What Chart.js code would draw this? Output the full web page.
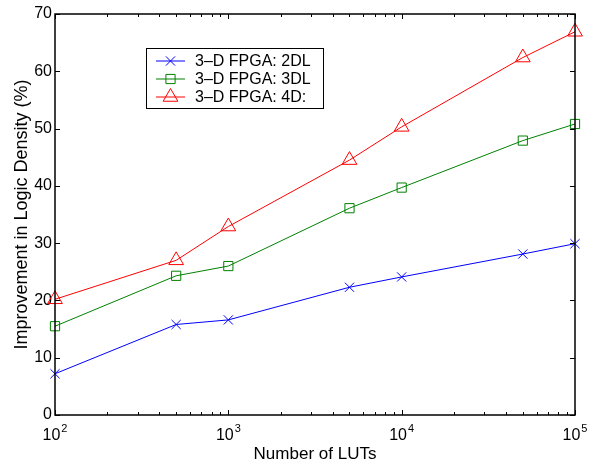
<!DOCTYPE html>
<html>
<head>
<meta charset="utf-8">
<title>Improvement in Logic Density</title>
<script src="https://cdn.jsdelivr.net/npm/chart.js@4.4.1/dist/chart.umd.min.js"></script>
<style>
  html, body { margin: 0; padding: 0; background: #fff; }
  #wrap { width: 600px; height: 463px; }
</style>
</head>
<body>
<div id="wrap"><canvas id="chart" width="600" height="463"></canvas></div>
<script>
// Number of LUTs (x axis, log scale)
const luts = [100, 500, 1000, 5000, 10000, 50000, 100000];

// Improvement in logic density in %, one array per series
const improvement2DL = [7.2, 15.8, 16.6, 22.3, 24.1, 28.1, 29.9];
const improvement3DL = [15.5, 24.3, 26.0, 36.1, 39.7, 47.9, 50.8];
const improvement4D = [20.2, 27.0, 32.9, 44.5, 50.3, 62.4, 66.9];

const seriesLabels = ['3\u2013D FPGA: 2DL', '3\u2013D FPGA: 3DL', '3\u2013D FPGA: 4D:'];

// Tick marks and labels
const xTickValues = [100, 1000, 10000, 100000];
const xTickExponents = ['2', '3', '4', '5'];
const yTickValues = [0, 10, 20, 30, 40, 50, 60, 70];

const fontFamily = "'Liberation Sans', Arial, Helvetica, sans-serif";
Chart.defaults.font.family = fontFamily;
Chart.defaults.color = '#000';

// One line series with hollow markers
function makeSeries(label, values, color, pointStyle, radius) {
    return {
        label: label,
        data: values,
        borderColor: color,
        backgroundColor: 'rgba(0,0,0,0)',
        borderWidth: 1,
        pointStyle: pointStyle,
        pointRadius: radius,
        pointBorderColor: color,
        pointBackgroundColor: 'rgba(0,0,0,0)',
        pointBorderWidth: 1,
        tension: 0,
        clip: false
    };
}

// Box around the plot, inward ticks on all sides and 10^n labels
const axesBox = {
    id: 'axesBox',
    afterDatasetsDraw(chart) {
        const { ctx, chartArea: a, scales: { x, y } } = chart;
        ctx.save();
        ctx.strokeStyle = '#000';
        ctx.lineWidth = 1;
        ctx.beginPath();
        yTickValues.forEach(v => {
            const py = Math.round(y.getPixelForValue(v)) + 0.5;
            ctx.moveTo(a.left, py); ctx.lineTo(a.left + 5, py);
            ctx.moveTo(a.right, py); ctx.lineTo(a.right - 5, py);
        });
        xTickValues.forEach(base => {
            for (let m = 1; m < 10; m++) {
                const v = base * m;
                if (v > x.max) break;
                const px = Math.round(x.getPixelForValue(v)) + 0.5;
                const len = m === 1 ? 5 : 3;
                ctx.moveTo(px, a.bottom); ctx.lineTo(px, a.bottom - len);
                ctx.moveTo(px, a.top); ctx.lineTo(px, a.top + len);
            }
        });
        ctx.stroke();

        ctx.lineWidth = 1.5;
        ctx.strokeRect(a.left, a.top, a.right - a.left, a.bottom - a.top);

        // x tick labels drawn as 10 with a raised exponent
        ctx.fillStyle = '#000';
        ctx.textBaseline = 'alphabetic';
        ctx.textAlign = 'left';
        xTickValues.forEach((v, i) => {
            const px = x.getPixelForValue(v);
            ctx.font = '16px ' + fontFamily;
            const w1 = ctx.measureText('10').width;
            ctx.font = '11px ' + fontFamily;
            const w2 = ctx.measureText(xTickExponents[i]).width;
            const start = px - (w1 + w2 + 1) / 2;
            ctx.font = '16px ' + fontFamily;
            ctx.fillText('10', start, a.bottom + 25);
            ctx.font = '11px ' + fontFamily;
            ctx.fillText(xTickExponents[i], start + w1 + 1, a.bottom + 17);
        });
        ctx.restore();
    }
};

// Legend in a framed box inside the plot
const boxLegend = {
    id: 'boxLegend',
    afterDraw(chart) {
        const ctx = chart.ctx;
        const left = 146, top = 48, width = 177, height = 60;
        ctx.save();
        ctx.fillStyle = '#fff';
        ctx.fillRect(left, top, width, height);
        ctx.strokeStyle = '#000';
        ctx.lineWidth = 1;
        ctx.strokeRect(left + 0.5, top + 0.5, width, height);

        chart.data.datasets.forEach((ds, i) => {
            const cy = top + 13 + i * 18;
            ctx.strokeStyle = ds.borderColor;
            ctx.lineWidth = 1;
            ctx.beginPath();
            ctx.moveTo(156, cy);
            ctx.lineTo(185, cy);
            ctx.stroke();
            ctx.fillStyle = 'rgba(0,0,0,0)';
            Chart.helpers.drawPoint(ctx, {
                pointStyle: ds.pointStyle,
                radius: ds.pointRadius,
                rotation: 0,
                borderWidth: 1
            }, 170.5, cy);

            ctx.fillStyle = '#000';
            ctx.font = '16px ' + fontFamily;
            ctx.textBaseline = 'middle';
            ctx.textAlign = 'left';
            ctx.fillText(ds.label, 195, cy + 1);
        });
        ctx.restore();
    }
};

new Chart(document.getElementById('chart'), {
    type: 'line',
    data: {
        labels: luts,
        datasets: [
            makeSeries(seriesLabels[0], improvement2DL, '#0000ff', 'crossRot', 6.5),
            makeSeries(seriesLabels[1], improvement3DL, '#008000', 'rect', 6.5),
            makeSeries(seriesLabels[2], improvement4D, '#ff0000', 'triangle', 8.5)
        ]
    },
    options: {
        responsive: false,
        animation: false,
        layout: { padding: { top: 14, right: 25, bottom: 0, left: 0 } },
        plugins: {
            legend: { display: false },
            tooltip: { enabled: false }
        },
        scales: {
            x: {
                type: 'logarithmic',
                min: 100,
                max: 100000,
                grid: { display: false, drawTicks: false },
                border: { display: false },
                ticks: { display: false },
                title: {
                    display: true,
                    text: 'Number of LUTs',
                    color: '#000',
                    font: { size: 17 },
                    padding: { top: 0, bottom: -2 }
                },
                afterFit(scale) { scale.height = 48; }
            },
            y: {
                min: 0,
                max: 70,
                grid: { display: false, drawTicks: false },
                border: { display: false },
                ticks: { color: '#000', font: { size: 16 }, padding: 3 },
                afterBuildTicks(scale) {
                    scale.ticks = yTickValues.map(v => ({ value: v }));
                },
                title: {
                    display: true,
                    text: 'Improvement in Logic Density (%)',
                    color: '#000',
                    font: { size: 18 },
                    padding: { top: 11, bottom: 0 }
                },
                afterFit(scale) { scale.width = 55; }
            }
        }
    },
    plugins: [axesBox, boxLegend]
});
</script>
</body>
</html>
